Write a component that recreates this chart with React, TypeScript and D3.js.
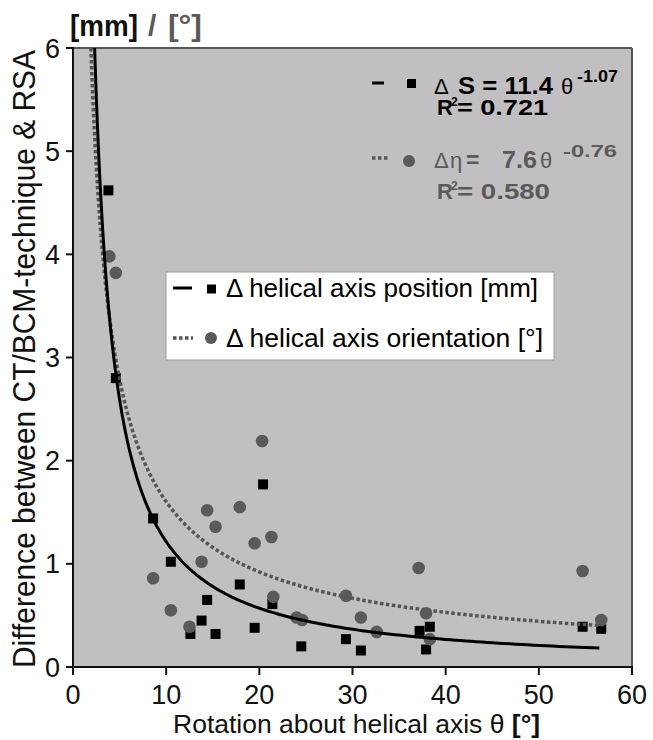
import React from "react";
import * as d3 from "d3";

// rotation about helical axis (deg) and errors
const posTheta = [3.8, 4.6, 8.6, 10.5, 12.6, 13.8, 14.4, 15.3, 17.9, 19.5, 20.4, 21.4, 24.5, 29.3, 30.9, 37.2, 37.9, 38.3, 54.7, 56.7];
const posValue = [4.62, 2.8, 1.44, 1.02, 0.32, 0.45, 0.65, 0.32, 0.8, 0.38, 1.77, 0.61, 0.2, 0.27, 0.16, 0.35, 0.17, 0.39, 0.39, 0.37];

const oriTheta = [3.9, 4.6, 8.6, 10.5, 12.5, 13.8, 14.4, 15.3, 17.9, 19.5, 20.3, 21.3, 21.5, 24.0, 24.6, 29.3, 30.9, 32.6, 37.1, 37.9, 38.3, 54.7, 56.7];
const oriValue = [3.98, 3.82, 0.86, 0.55, 0.39, 1.02, 1.52, 1.36, 1.55, 1.2, 2.19, 1.26, 0.68, 0.48, 0.455, 0.69, 0.48, 0.34, 0.96, 0.52, 0.27, 0.93, 0.455];

// power trendlines as drawn (a * theta^b)
const posFit = [15.06, -1.093];
const oriFit = [10.09, -0.799];
const fitEnd = 56.5;

const xTicks = [0, 10, 20, 30, 40, 50, 60];
const yTicks = [0, 1, 2, 3, 4, 5, 6];

const FONT = "'Liberation Sans', Arial, Helvetica, sans-serif";
const GRAY = "#5a5a5a";

const margin = { left: 73, top: 48, right: 632, bottom: 667 };

const App = () => {
  const x = d3.scaleLinear().domain([0, 60]).range([margin.left, margin.right]);
  const y = d3.scaleLinear().domain([0, 6]).range([margin.bottom, margin.top]);

  const fitPath = (fit: number[]) => {
    const [a, b] = fit;
    const start = Math.pow(6 / a, 1 / b);
    const pts = d3.range(0, 241).map((i) => start * Math.pow(fitEnd / start, i / 240));
    return d3
      .line<number>()
      .x((t) => x(t))
      .y((t) => y(a * Math.pow(t, b)))(pts) as string;
  };

  const sq = 10;

  return (
    <div style={{ position: "absolute", left: 0, top: 0 }}>
      <svg width={653} height={740} style={{ display: "block", background: "#fff" }} fontFamily={FONT}>
        {/* plot area */}
        <rect x={margin.left} y={margin.top} width={margin.right - margin.left} height={margin.bottom - margin.top} fill="#c1bfc1" />
        <line x1={margin.left} x2={margin.right} y1={margin.top} y2={margin.top} stroke="#555" strokeWidth={2} />
        <line x1={margin.right} x2={margin.right} y1={margin.top} y2={margin.bottom} stroke="#555" strokeWidth={2} />

        {/* axes */}
        <line x1={margin.left} x2={margin.left} y1={margin.top - 1} y2={margin.bottom} stroke="#111" strokeWidth={2} />
        <line x1={margin.left - 1} x2={margin.right + 1} y1={margin.bottom} y2={margin.bottom} stroke="#111" strokeWidth={2} />
        {yTicks.map((t) => (
          <g key={"y" + t}>
            <line x1={margin.left - 7} x2={margin.left} y1={y(t)} y2={y(t)} stroke="#111" strokeWidth={2} />
            <text x={60} y={y(t) + 9.5} textAnchor="end" fontSize={27} fill="#111">{t}</text>
          </g>
        ))}
        {xTicks.map((t) => (
          <g key={"x" + t}>
            <line x1={x(t)} x2={x(t)} y1={margin.bottom} y2={margin.bottom + 8} stroke="#111" strokeWidth={2} />
            <text x={x(t)} y={704} textAnchor="middle" fontSize={27} fill="#111">{t}</text>
          </g>
        ))}

        {/* markers */}
        {posTheta.map((t, i) => (
          <rect key={"p" + i} x={x(t) - sq / 2} y={y(posValue[i]) - sq / 2} width={sq} height={sq} fill="#000" />
        ))}
        {oriTheta.map((t, i) => (
          <circle key={"o" + i} cx={x(t)} cy={y(oriValue[i])} r={6.3} fill={GRAY} />
        ))}

        {/* trendlines */}
        <path d={fitPath(oriFit)} fill="none" stroke="#555" strokeWidth={3.5} strokeDasharray="3.5,2.5" />
        <path d={fitPath(posFit)} fill="none" stroke="#000" strokeWidth={3} />

        {/* equations */}
        <line x1={372} x2={384} y1={83} y2={83} stroke="#000" strokeWidth={3} />
        <rect x={407} y={79} width={9} height={9} fill="#000" />
        <text x={434} y={94} fontSize={22} fill="#000">Δ</text>
        <text x={458} y={94} fontSize={23} fontWeight="bold" fill="#000" textLength={95} lengthAdjust="spacingAndGlyphs">S = 11.4</text>
        <text x={561} y={94} fontSize={22} fill="#000">θ</text>
        <text x={577} y={82} fontSize={16} fontWeight="bold" fill="#000" textLength={41} lengthAdjust="spacingAndGlyphs">-1.07</text>
        <text x={437} y={115} fontSize={22} fontWeight="bold" fill="#000">R</text>
        <text x={451} y={106} fontSize={12} fontWeight="bold" fill="#000">2</text>
        <text x={457} y={115} fontSize={22} fontWeight="bold" fill="#000" textLength={91} lengthAdjust="spacingAndGlyphs">= 0.721</text>

        <line x1={372} x2={388} y1={158} y2={158} stroke="#555" strokeWidth={3.5} strokeDasharray="3.5,2.5" />
        <circle cx={409} cy={161} r={6} fill={GRAY} />
        <text x={434} y={168} fontSize={22} fill={GRAY}>Δ</text>
        <text x={450} y={168} fontSize={22} fill={GRAY}>η</text>
        <text x={466} y={168} fontSize={23} fontWeight="bold" fill={GRAY}>=</text>
        <text x={502} y={168} fontSize={23} fontWeight="bold" fill={GRAY} textLength={35} lengthAdjust="spacingAndGlyphs">7.6</text>
        <text x={540} y={168} fontSize={22} fill={GRAY}>θ</text>
        <text x={563} y={157} fontSize={16} fontWeight="bold" fill={GRAY} textLength={54} lengthAdjust="spacingAndGlyphs">-0.76</text>
        <text x={437} y={199} fontSize={22} fontWeight="bold" fill={GRAY}>R</text>
        <text x={451} y={190} fontSize={12} fontWeight="bold" fill={GRAY}>2</text>
        <text x={457} y={199} fontSize={22} fontWeight="bold" fill={GRAY} textLength={93} lengthAdjust="spacingAndGlyphs">= 0.580</text>

        {/* legend */}
        <rect x={166} y={272} width={388} height={88} fill="#fff" stroke="#a0a0a0" strokeWidth={1} />
        <line x1={173} x2={192} y1={288} y2={288} stroke="#000" strokeWidth={3} />
        <rect x={207} y={284.5} width={9} height={9} fill="#000" />
        <text x={226} y={297} fontSize={26} fill="#000" textLength={312} lengthAdjust="spacingAndGlyphs">Δ helical axis position [mm]</text>
        <line x1={173} x2={193} y1={338} y2={338} stroke="#555" strokeWidth={3.5} strokeDasharray="3.5,2.5" />
        <circle cx={211} cy={338} r={6} fill={GRAY} />
        <text x={226} y={347} fontSize={26} fill="#000" textLength={317} lengthAdjust="spacingAndGlyphs">Δ helical axis orientation [°]</text>

        {/* axis titles */}
        <text x={173} y={733} fontSize={26.5} fill="#111">
          Rotation about helical axis θ <tspan fontWeight="bold">[°]</tspan>
        </text>
        <text transform="translate(35,668) rotate(-90)" fontSize={31} fill="#111" textLength={618} lengthAdjust="spacingAndGlyphs">
          Difference between CT/BCM-technique &amp; RSA
        </text>
        <text x={70} y={36} fontSize={30} fontWeight="bold" fill="#111" textLength={68} lengthAdjust="spacingAndGlyphs">[mm]</text>
        <text x={148} y={36} fontSize={30} fontWeight="bold" fill={GRAY}>/</text>
        <text x={168} y={36} fontSize={30} fontWeight="bold" fill={GRAY} textLength={34} lengthAdjust="spacingAndGlyphs">[°]</text>
      </svg>
    </div>
  );
};

export default App;
